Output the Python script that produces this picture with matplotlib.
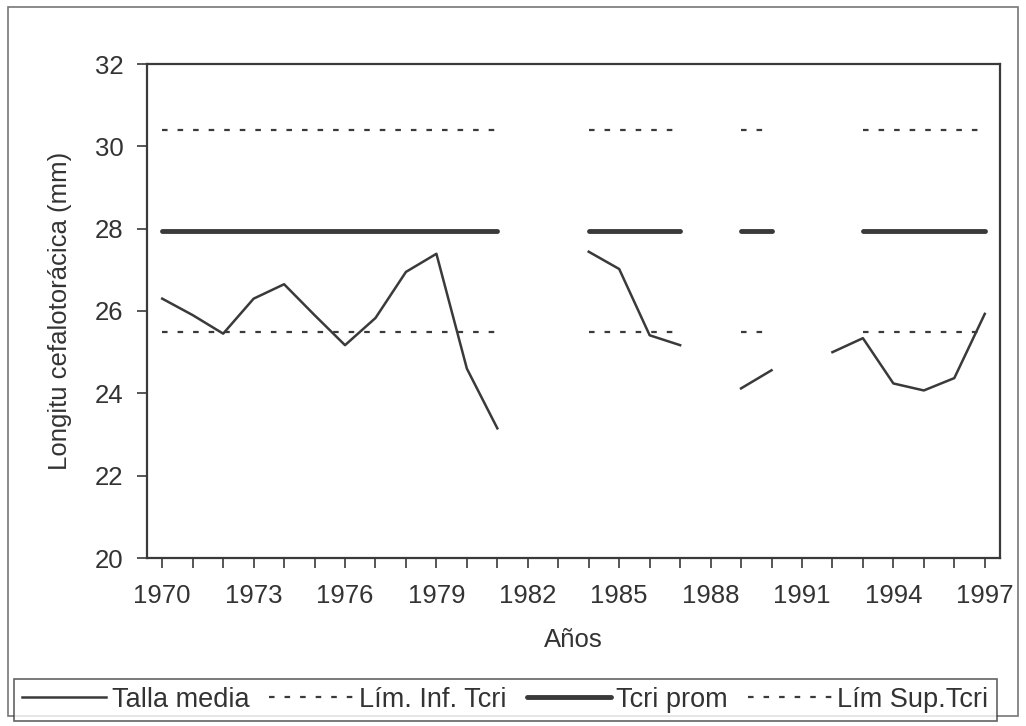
import numpy as np
import matplotlib
matplotlib.use("Agg")
import matplotlib.pyplot as plt
from matplotlib.patches import Rectangle

plt.rcParams['font.family'] = ['Liberation Sans', 'DejaVu Sans']

years = list(range(1970, 1998))
nan = np.nan
talla_media = [26.3, 25.9, 25.45, 26.3, 26.65, 25.9, 25.17, 25.83, 26.95, 27.39, 24.6, 23.15,
               nan, nan, 27.44, 27.02, 25.41, 25.17, nan, 24.12, 24.56, nan,
               25.0, 25.34, 24.24, 24.07, 24.37, 25.93]
lim_inf = [25.5]*12 + [nan, nan] + [25.5]*4 + [nan] + [25.5]*2 + [nan, nan] + [25.5]*5
tcri_prom = [27.95]*12 + [nan, nan] + [27.95]*4 + [nan] + [27.95]*2 + [nan, nan] + [27.95]*5
lim_sup = [30.4]*12 + [nan, nan] + [30.4]*4 + [nan] + [30.4]*2 + [nan, nan] + [30.4]*5

xticks = list(range(1970, 1998, 3))
yticks = [20, 22, 24, 26, 28, 30, 32]

col = '#3a3a3a'
fs = 18.5
fig = plt.figure(figsize=(10.26, 7.26), dpi=100)
ax = fig.add_axes([147/1026, 1 - 558/726, (1000-147)/1026, (558-64)/726])

l1, = ax.plot(years, talla_media, color=col, lw=1.8, label='Talla media')
l2, = ax.plot(years, lim_inf, color=col, lw=1.6, ls=(0, (2.5, 4.5)), label='Lím. Inf. Tcri')
l3, = ax.plot(years, tcri_prom, color=col, lw=3.5, solid_capstyle='round', label='Tcri prom')
l4, = ax.plot(years, lim_sup, color=col, lw=1.6, ls=(0, (2.5, 4.5)), label='Lím Sup.Tcri')

ax.set_xlim(1969.5, 1997.5)
ax.set_ylim(20, 32)
ax.set_xticks(xticks)
ax.set_xticks(years, minor=True)
ax.set_yticks(yticks)
ax.tick_params(axis='both', which='both', direction='out', color=col, width=1.2, labelcolor='#333333', labelsize=fs)
ax.tick_params(axis='x', which='both', length=7, pad=12)
ax.tick_params(axis='y', length=7, pad=10)
for s in ax.spines.values():
    s.set_color(col)
    s.set_linewidth(1.6)
ax.set_xlabel('Años', fontsize=fs, color='#333333', labelpad=14)
ax.set_ylabel('Longitu cefalotorácica (mm)', fontsize=fs, color='#333333', labelpad=16)

# outer border
fig.patches.append(Rectangle((8/1026, 1 - 716/726), (1018-8)/1026, (716-7)/726,
                             transform=fig.transFigure, fill=False, edgecolor='#777777', lw=1.2))

leg = fig.legend(handles=[l1, l2, l3, l4], loc='lower left',
                 bbox_to_anchor=(14/1026, 1 - 721/726),
                 ncol=4, fontsize=19.5, frameon=True, fancybox=False,
                 handlelength=3.1, handletextpad=0.2, columnspacing=0.75, borderpad=0.3,
                 borderaxespad=0)
leg.get_frame().set_edgecolor(col)
leg.get_frame().set_linewidth(1.2)
for t in leg.get_texts():
    t.set_color('#333333')

fig.savefig('out.png', dpi=100)
